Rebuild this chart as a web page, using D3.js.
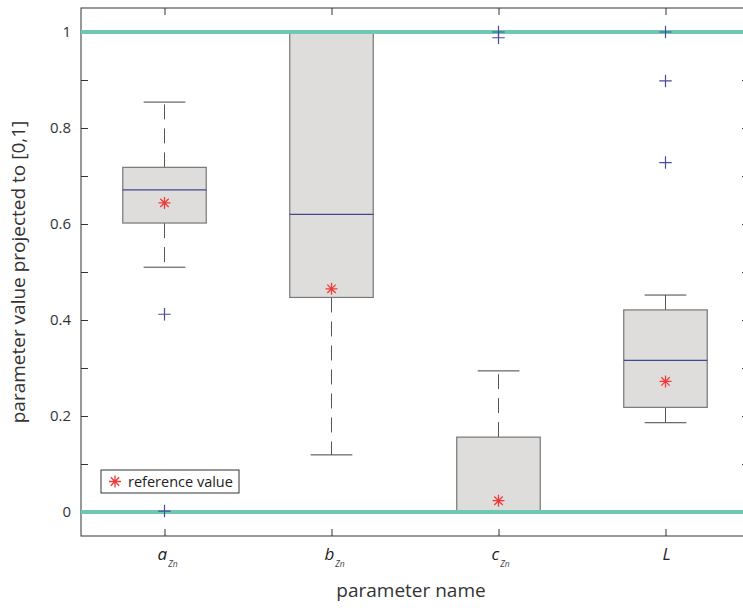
<!DOCTYPE html>
<html>
<head>
<meta charset="utf-8">
<script src="https://cdn.jsdelivr.net/npm/d3@7"></script>
<style>
  body { margin: 0; background: #fff; }
  svg { font-family: 'Open Sans', 'Noto Sans', sans-serif; }
</style>
</head>
<body>
<svg id="chart" width="743" height="613"></svg>
<script>
// box statistics
const categories = ['a', 'b', 'c', 'L'];
const subscripts = ['Zn', 'Zn', 'Zn', ''];
const whiskerLow = [0.510, 0.119, 0.0, 0.186];
const q1 = [0.602, 0.447, 0.0, 0.218];
const median = [0.671, 0.620, 0.0, 0.316];
const q3 = [0.718, 1.0, 0.156, 0.421];
const whiskerHigh = [0.854, 1.0, 0.294, 0.452];
const outliers = [[0.412, 0.002], [], [1.0, 0.988], [1.0, 0.898, 0.728]];
const referenceValue = [0.644, 0.465, 0.0235, 0.272];
const boundLines = [0, 1];
const yTicks = [0, 0.2, 0.4, 0.6, 0.8, 1];
const yMinorTicks = [0, 0.1, 0.2, 0.3, 0.4, 0.5, 0.6, 0.7, 0.8, 0.9, 1];

const margin = { left: 81, top: 8, right: -6, bottom: 77 };
const W = 743, H = 613;

const svg = d3.select('#chart');

const x = d3.scaleLinear().domain([0.5, 4.5]).range([margin.left, W - margin.right]);
const y = d3.scaleLinear().domain([-0.05, 1.05]).range([H - margin.bottom, margin.top]);

const boxW = x(1.25) - x(1);
const capW = x(1.125) - x(1);

const axisColor = '#333';

// plot frame
svg.append('rect')
  .attr('x', x(0.5)).attr('y', y(1.05))
  .attr('width', x(4.5) - x(0.5)).attr('height', y(-0.05) - y(1.05))
  .attr('fill', 'none').attr('stroke', axisColor).attr('stroke-width', 1);

// y ticks (inward) on left and right
const yAxisL = d3.axisRight(y).tickValues(yMinorTicks).tickSize(7).tickFormat('');
svg.append('g').attr('transform', `translate(${x(0.5)},0)`).call(yAxisL)
  .call(g => g.select('.domain').remove())
  .call(g => g.selectAll('line').attr('stroke', axisColor));
const yAxisR = d3.axisLeft(y).tickValues(yMinorTicks).tickSize(7).tickFormat('');
svg.append('g').attr('transform', `translate(${x(4.5)},0)`).call(yAxisR)
  .call(g => g.select('.domain').remove())
  .call(g => g.selectAll('line').attr('stroke', axisColor));

// y labels
svg.append('g').selectAll('text').data(yTicks).join('text')
  .attr('x', x(0.5) - 10).attr('y', d => y(d)).attr('dy', '0.35em')
  .attr('text-anchor', 'end').attr('font-size', 15).attr('fill', axisColor)
  .text(d => d3.format('~g')(d));

// x ticks bottom/top
const xs = categories.map((d, i) => i + 1);
const xAxisB = d3.axisTop(x).tickValues(xs).tickSize(7).tickFormat('');
svg.append('g').attr('transform', `translate(0,${y(-0.05)})`).call(xAxisB)
  .call(g => g.select('.domain').remove())
  .call(g => g.selectAll('line').attr('stroke', axisColor));
const xAxisT = d3.axisBottom(x).tickValues(xs).tickSize(7).tickFormat('');
svg.append('g').attr('transform', `translate(0,${y(1.05)})`).call(xAxisT)
  .call(g => g.select('.domain').remove())
  .call(g => g.selectAll('line').attr('stroke', axisColor));

// category labels
const lab = svg.append('g').selectAll('text').data(categories).join('text')
  .attr('x', (d, i) => x(i + 1) - (subscripts[i] ? 7 : 3)).attr('y', 560)
  .attr('font-size', 17).attr('font-style', 'italic').attr('fill', '#222');
lab.append('tspan').text(d => d);
lab.append('tspan').attr('font-size', 8.5).attr('dx', 1).attr('dy', 7).attr('fill', '#444').text((d, i) => subscripts[i]);

// axis titles
svg.append('text').attr('x', 411).attr('y', 597).attr('text-anchor', 'middle')
  .attr('font-size', 19).attr('fill', '#333').text('parameter name');
svg.append('text').attr('transform', `translate(25,${(y(1.05) + y(-0.05)) / 2}) rotate(-90)`)
  .attr('text-anchor', 'middle').attr('font-size', 19).attr('fill', '#333')
  .text('parameter value projected to [0,1]');

// whiskers
const wg = svg.append('g');
xs.forEach((c, i) => {
  const cx = x(c);
  [[q3[i], whiskerHigh[i]], [q1[i], whiskerLow[i]]].forEach(([from, to]) => {
    if (from === to) return;
    wg.append('line').attr('x1', cx).attr('x2', cx).attr('y1', y(from)).attr('y2', y(to))
      .attr('stroke', '#555').attr('stroke-dasharray', '15,9');
  });
  [whiskerHigh[i], whiskerLow[i]].forEach(v => {
    if (v === q3[i] && v === whiskerHigh[i] && v === 1) return;
    wg.append('line').attr('x1', cx - capW).attr('x2', cx + capW).attr('y1', y(v)).attr('y2', y(v))
      .attr('stroke', '#444').attr('stroke-width', 1);
  });
});

// boxes
svg.append('g').selectAll('rect').data(xs).join('rect')
  .attr('x', d => x(d) - boxW).attr('width', 2 * boxW)
  .attr('y', (d, i) => y(q3[i])).attr('height', (d, i) => y(q1[i]) - y(q3[i]))
  .attr('fill', '#dfdddc').attr('stroke', '#777').attr('stroke-width', 1.2);

// medians
svg.append('g').selectAll('line').data(xs).join('line')
  .attr('x1', d => x(d) - boxW).attr('x2', d => x(d) + boxW)
  .attr('y1', (d, i) => y(median[i])).attr('y2', (d, i) => y(median[i]))
  .attr('stroke', '#45458f').attr('stroke-width', 1.2);

// bound lines at 0 and 1
svg.append('g').selectAll('line').data(boundLines).join('line')
  .attr('x1', x(0.5)).attr('x2', x(4.5)).attr('y1', d => y(d)).attr('y2', d => y(d))
  .attr('stroke', '#6cc9b4').attr('stroke-width', 4);

// marker shapes
const plusSym = { draw(ctx, size) { const r = Math.sqrt(size) / 2; ctx.moveTo(-r, 0); ctx.lineTo(r, 0); ctx.moveTo(0, -r); ctx.lineTo(0, r); } };
const starSym = { draw(ctx, size) {
  const r = Math.sqrt(size) / 2, k = r * 0.7;
  ctx.moveTo(-r, 0); ctx.lineTo(r, 0); ctx.moveTo(0, -r); ctx.lineTo(0, r);
  ctx.moveTo(-k, -k); ctx.lineTo(k, k); ctx.moveTo(-k, k); ctx.lineTo(k, -k);
} };

// outliers
const outPts = outliers.flatMap((arr, i) => arr.map(v => ({ c: i + 1, v })));
svg.append('g').selectAll('path').data(outPts).join('path')
  .attr('transform', d => `translate(${x(d.c)},${y(d.v)})`)
  .attr('d', d3.symbol(plusSym, 156))
  .attr('fill', 'none').attr('stroke', '#4a4aa0').attr('stroke-width', 1.2);

// reference values
svg.append('g').selectAll('path').data(xs).join('path')
  .attr('transform', (d, i) => `translate(${x(d)},${y(referenceValue[i])})`)
  .attr('d', d3.symbol(starSym, 144))
  .attr('fill', 'none').attr('stroke', '#f03a3a').attr('stroke-width', 1.3);

// legend
const leg = svg.append('g').attr('transform', 'translate(101,470)');
leg.append('rect').attr('width', 138).attr('height', 23)
  .attr('fill', '#fff').attr('stroke', '#333').attr('stroke-width', 1);
leg.append('path').attr('transform', 'translate(14,11.5)')
  .attr('d', d3.symbol(starSym, 144))
  .attr('fill', 'none').attr('stroke', '#f03a3a').attr('stroke-width', 1.3);
leg.append('text').attr('x', 27).attr('y', 16.5).attr('font-size', 14.5).attr('fill', '#222')
  .text('reference value');
</script>
</body>
</html>
